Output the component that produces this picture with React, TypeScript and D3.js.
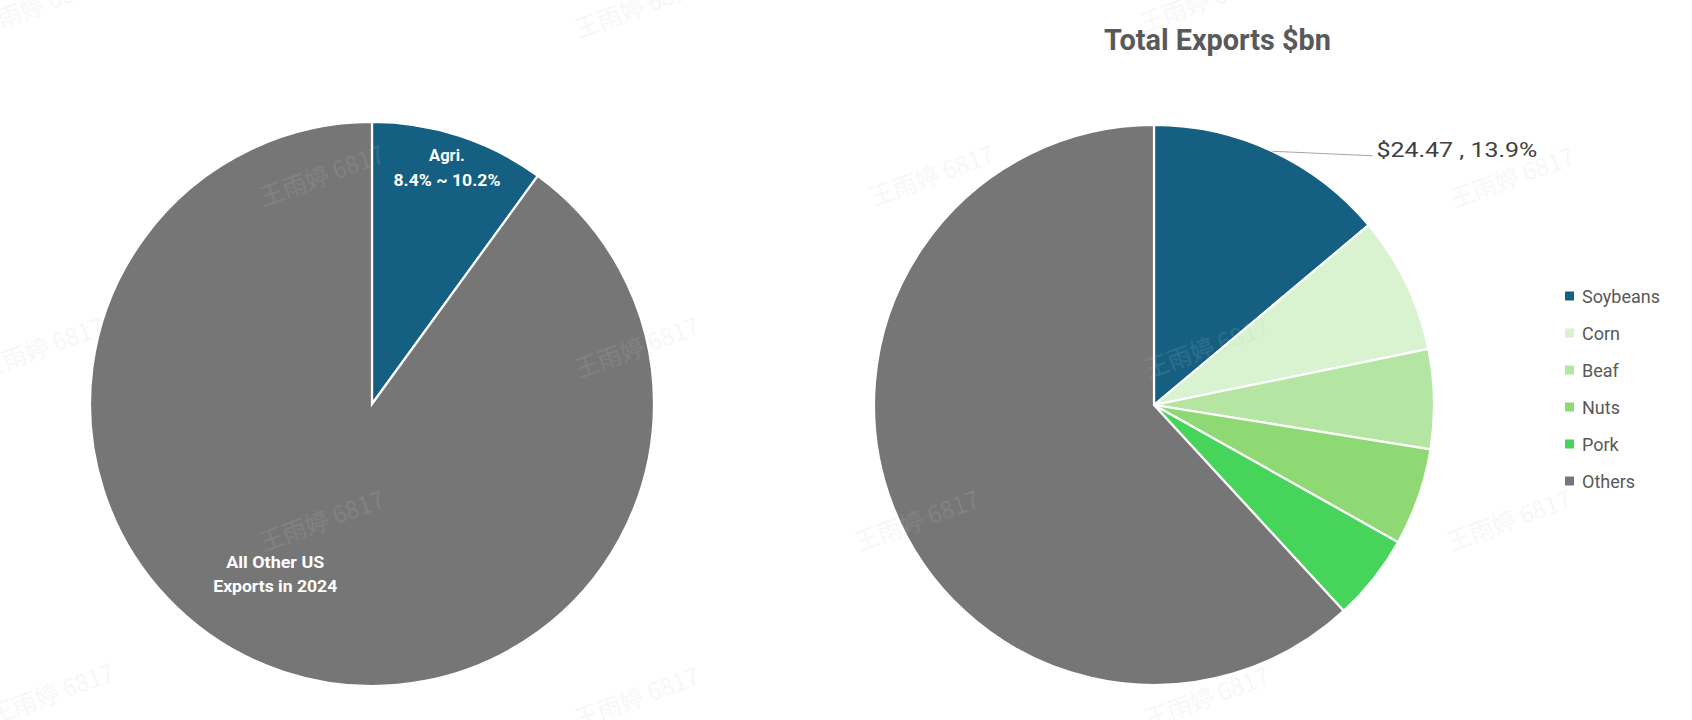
import React from "react";
import * as d3 from "d3";

const W = 1692;
const H = 720;

// Left pie: share of US exports
const shareCategories = ["Agri.", "All Other US Exports in 2024"];
const shareValues = [10, 90];
const shareColors = ["#156082", "#767676"];

// Right pie: total exports $bn
const exportCategories = ["Soybeans", "Corn", "Beaf", "Nuts", "Pork", "Others"];
const exportValues = [24.47, 13.9, 10.1, 9.9, 8.8, 108.9];
const exportColors = ["#156082", "#d9f2d0", "#b4e5a2", "#8ed973", "#47d45a", "#767676"];

const watermarkPositions: [number, number][] = [
  [40, 14], [640, 16], [1205, 10],
  [325, 184], [935, 184], [1515, 186],
  [45, 356], [640, 356], [1210, 356],
  [325, 529], [920, 529], [1512, 529],
  [55, 702], [640, 706], [1210, 706],
];

const FONT = "Roboto, 'Liberation Sans', Arial, sans-serif";

export default function App() {
  const pie = d3.pie<number>().sort(null).value((d) => d);

  // Left pie
  const lc = { x: 372, y: 404 };
  const lr = 282;
  const leftArcs = pie(shareValues);
  const leftArc = d3.arc<d3.PieArcDatum<number>>().innerRadius(0).outerRadius(lr);

  // Right pie
  const rc = { x: 1154, y: 405 };
  const rr = 280;
  const rightArcs = pie(exportValues);
  const rightArc = d3.arc<d3.PieArcDatum<number>>().innerRadius(0).outerRadius(rr);
  const total = d3.sum(exportValues);

  // Agri label position: centroid at 0.86r
  const agri = leftArcs[0];
  const agriMid = (agri.startAngle + agri.endAngle) / 2;
  const agriR = lr * 0.86;
  const agriX = lc.x + agriR * Math.sin(agriMid);
  const agriY = lc.y - agriR * Math.cos(agriMid);

  const oth = leftArcs[1];
  const othAng = (oth.startAngle + oth.endAngle) / 2 + 0.198;
  const othR = lr * 0.70;
  const othX = lc.x + othR * Math.sin(othAng);
  const othY = lc.y - othR * Math.cos(othAng);

  // Soybeans label leader
  const soy = rightArcs[0];
  const soyMid = (soy.startAngle + soy.endAngle) / 2;
  const p0x = rc.x + rr * Math.sin(soyMid);
  const p0y = rc.y - rr * Math.cos(soyMid);
  const p1x = p0x + 100;
  const p1y = p0y + 4.5;
  const soyLabel = `$${exportValues[0].toFixed(2)} , ${((exportValues[0] / total) * 100).toFixed(1)}%`;

  const legendY = d3.scalePoint<string>().domain(exportCategories).range([296, 481]);

  return (
    <div style={{ position: "fixed", left: 0, top: 0, width: W, height: H, background: "#fff" }}>
      <svg width={W} height={H} style={{ display: "block" }}>
        <rect width={W} height={H} fill="#fff" />
        {/* Left pie */}
        <g transform={`translate(${lc.x},${lc.y})`}>
          {leftArcs.map((a, i) => (
            <path key={i} d={leftArc(a) || ""} fill={shareColors[i]} stroke="#fff" strokeWidth={2.2} />
          ))}
        </g>
        <g fontFamily={FONT} fontWeight={700} fill="#fff" textAnchor="middle" fontSize={16.5}>
          <text x={agriX} y={agriY - 12} >{shareCategories[0]}</text>
          <text x={agriX} y={agriY + 13} textLength={107} lengthAdjust="spacingAndGlyphs">8.4% ~ 10.2%</text>
          <text x={othX} y={othY - 8} textLength={98} lengthAdjust="spacingAndGlyphs">All Other US</text>
          <text x={othX} y={othY + 16} textLength={124} lengthAdjust="spacingAndGlyphs">Exports in 2024</text>
        </g>

        {/* Right pie */}
        <text x={1217.5} y={50} textAnchor="middle" fontFamily={FONT} fontWeight={700} fontSize={30}
          fill="#595959" textLength={227} lengthAdjust="spacingAndGlyphs">Total Exports $bn</text>
        <g transform={`translate(${rc.x},${rc.y})`}>
          {rightArcs.map((a, i) => (
            <path key={i} d={rightArc(a) || ""} fill={exportColors[i]} stroke="#fff" strokeWidth={2.2} />
          ))}
        </g>
        <line x1={p0x} y1={p0y} x2={p1x} y2={p1y} stroke="#a6a6a6" strokeWidth={1} />
        <text x={p1x + 4} y={p1y + 1} fontFamily={FONT} fontSize={19.5} fill="#404040"
          textLength={161} lengthAdjust="spacingAndGlyphs">{soyLabel}</text>

        {/* Legend */}
        <g fontFamily={FONT} fontSize={18} fill="#595959">
          {exportCategories.map((c, i) => (
            <g key={c} transform={`translate(1565,${legendY(c)})`}>
              <rect x={0} y={-4.5} width={9} height={9} fill={exportColors[i]} />
              <text x={17} y={6.5}>{c}</text>
            </g>
          ))}
        </g>

        {/* Watermarks */}
        <g fontFamily="'Noto Sans CJK SC', sans-serif" fontSize={24} fill="#c8c8c8" opacity={0.16} textAnchor="middle">
          {watermarkPositions.map(([x, y], i) => (
            <text key={i} x={x} y={y} transform={`rotate(-20 ${x} ${y})`}>王雨婷 6817</text>
          ))}
        </g>
      </svg>
    </div>
  );
}
